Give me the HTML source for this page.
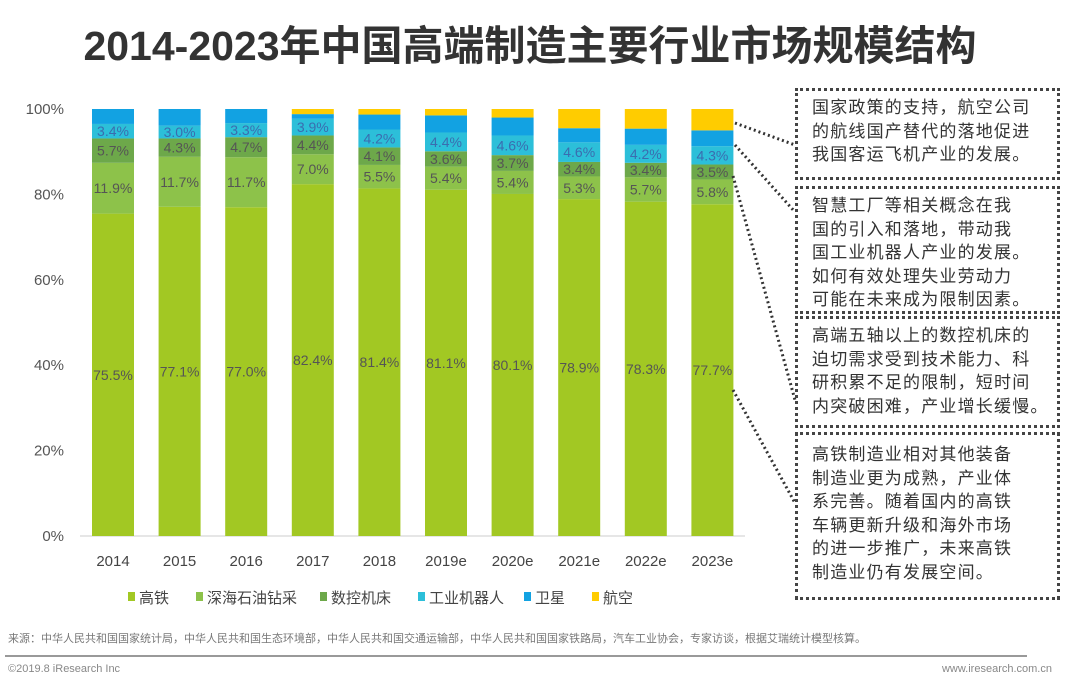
<!DOCTYPE html>
<html><head><meta charset="utf-8">
<style>
body{margin:0;width:1080px;height:685px;background:#fff;font-family:"Liberation Sans","Noto Sans CJK SC",sans-serif;overflow:hidden;position:relative}
.box{position:absolute;left:795px;width:265px;border:3px dotted #444;box-sizing:border-box;padding:5px 0 0 14px;font-size:17px;line-height:23.5px;color:#333;letter-spacing:1.2px;white-space:nowrap}
</style></head><body>
<div style="position:absolute;left:0;width:1060px;top:12px;text-align:center;font-size:41px;font-weight:bold;color:#333">2014-2023年中国高端制造主要行业市场规模结构</div>
<svg id="chart" width="1080" height="685" style="position:absolute;left:0;top:0"></svg>
<div class="box" style="top:88px;height:92px">国家政策的支持，航空公司<br>的航线国产替代的落地促进<br>我国客运飞机产业的发展。</div>
<div class="box" style="top:186px;height:128px">智慧工厂等相关概念在我<br>国的引入和落地，带动我<br>国工业机器人产业的发展。<br>如何有效处理失业劳动力<br>可能在未来成为限制因素。</div>
<div class="box" style="top:316px;height:112px">高端五轴以上的数控机床的<br>迫切需求受到技术能力、科<br>研积累不足的限制，短时间<br>内突破困难，产业增长缓慢。</div>
<div class="box" style="top:432px;height:168px;padding-top:8px">高铁制造业相对其他装备<br>制造业更为成熟，产业体<br>系完善。随着国内的高铁<br>车辆更新升级和海外市场<br>的进一步推广，未来高铁<br>制造业仍有发展空间。</div>
<div style="position:absolute;left:8px;top:630px;font-size:11px;color:#777">来源：中华人民共和国国家统计局，中华人民共和国生态环境部，中华人民共和国交通运输部，中华人民共和国国家铁路局，汽车工业协会，专家访谈，根据艾瑞统计模型核算。</div>
<div style="position:absolute;left:5px;top:655px;width:1022px;height:2px;background:#999"></div>
<div style="position:absolute;left:8px;top:663px;font-size:11px;color:#888">©2019.8 iResearch Inc</div>
<div style="position:absolute;right:28px;top:663px;font-size:11px;color:#888">www.iresearch.com.cn</div>
<script>
const categories=["2014","2015","2016","2017","2018","2019e","2020e","2021e","2022e","2023e"];
const seriesNames=["高铁","深海石油钻采","数控机床","工业机器人","卫星","航空"];
const railway=[75.5,77.1,77.0,82.4,81.4,81.1,80.1,78.9,78.3,77.7];
const offshore=[11.9,11.7,11.7,7.0,5.5,5.4,5.4,5.3,5.7,5.8];
const cnc=[5.7,4.3,4.7,4.4,4.1,3.6,3.7,3.4,3.4,3.5];
const robot=[3.4,3.0,3.3,3.9,4.2,4.4,4.6,4.6,4.2,4.3];
const satellite=[3.5,3.9,3.3,1.1,3.5,4.0,4.2,3.3,3.8,3.7];
const aviation=[0,0,0,1.2,1.3,1.5,2.0,4.5,4.6,5.0];
const yTicks=[0,20,40,60,80,100];
const colors=["#a2c823","#8dc24a","#6da84a","#2cbfd9","#12a2e2","#ffcc00"];
const series=[railway,offshore,cnc,robot,satellite,aviation];
const svg=document.getElementById('chart');const NS="http://www.w3.org/2000/svg";
const y0=536,y1=109;const yS=v=>y0-(y0-y1)*v/100;
const xC=i=>113+i*66.6;const bw=42;
function mk(t,a,txt){const e=document.createElementNS(NS,t);for(const k in a)e.setAttribute(k,a[k]);if(txt!==undefined)e.textContent=txt;svg.appendChild(e);return e;}
yTicks.forEach(t=>{const e=mk('text',{x:64,y:yS(t)+5,'text-anchor':'end','font-size':15,fill:'#555'},t+'%');

});
mk('line',{x1:80,x2:745,y1:y0,y2:y0,stroke:'#ccc'});
categories.forEach((c,i)=>{let cum=0;
series.forEach((s,j)=>{const v=s[i];if(v<=0)return;
const r=mk('rect',{x:xC(i)-bw/2,y:yS(cum+v),width:bw,height:yS(cum)-yS(cum+v),fill:colors[j]});


if(j<4){const t=mk('text',{x:xC(i),y:(yS(cum)+yS(cum+v))/2+5,'text-anchor':'middle','font-size':14,fill:j==3?'#3a6db0':'#555'},v.toFixed(1)+'%');

}
cum+=v;});
const l=mk('text',{x:xC(i),y:566,'text-anchor':'middle','font-size':15,fill:'#444'},c);

});
const lx=[128,196,320,418,524,592];
seriesNames.forEach((n,j)=>{const r=mk('rect',{x:lx[j],y:592,width:7,height:9,fill:colors[j]});


const t=mk('text',{x:lx[j]+11,y:603,'font-size':15,fill:'#444'},n);

});
[[735,123,795,145],[735,145,795,212],[733,176,795,400],[733,390,795,503]].forEach(p=>{const l=mk('line',{x1:p[0],y1:p[1],x2:p[2],y2:p[3],stroke:'#333','stroke-width':3,'stroke-dasharray':'2 3'});

});
</script>
</body></html>
